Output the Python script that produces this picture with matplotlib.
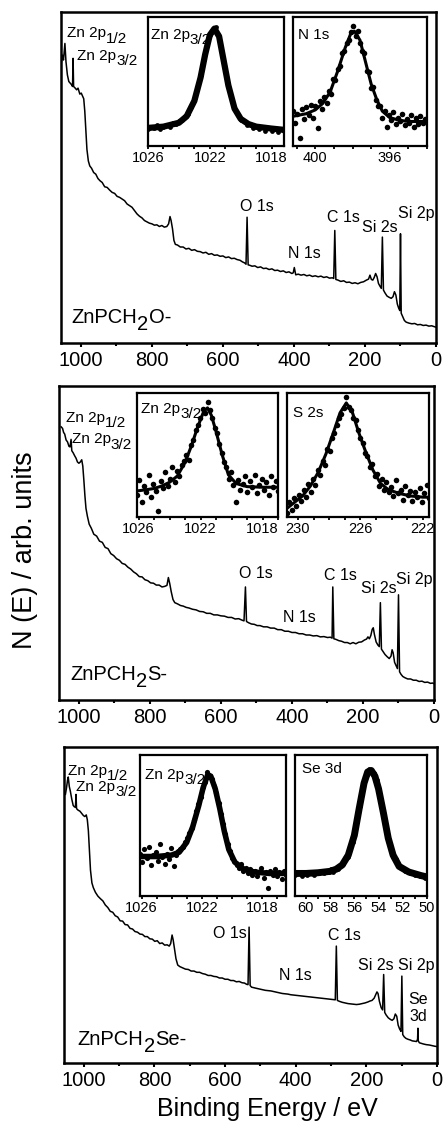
import matplotlib
matplotlib.use('Agg')
import numpy as np
import matplotlib.pyplot as plt
from matplotlib.ticker import FixedLocator
from matplotlib.transforms import IdentityTransform

plt.rcParams['font.family'] = ['Liberation Sans', 'DejaVu Sans']

# ---- survey spectra (binding energy eV, normalised intensity) ----
survey_o = [(1056, .84), (1052, .87), (1049, .855), (1045, .905), (1042, .85), (1038, .81), (1034, .79),
            (1030, .785), (1026, .78), (1023.5, .775), (1022, .86), (1020.5, .775), (1016, .77), (1012, .765),
            (1008, .77), (1003, .752), (999, .755), (995, .745), (992, .738), (989, .70), (986, .64), (983, .585),
            (979, .55), (975, .535), (970, .528), (964, .515), (958, .51), (952, .497), (946, .49), (940, .485),
            (933, .472), (926, .47), (919, .462), (912, .455), (905, .452), (898, .443), (891, .44), (884, .435),
            (877, .43), (870, .42), (863, .415), (856, .41), (849, .40), (842, .39), (835, .383), (828, .378),
            (821, .37), (814, .366), (807, .362), (800, .36), (793, .356), (786, .357), (779, .352), (772, .355),
            (765, .35), (758, .352), (753, .36), (749, .382), (746, .37), (742, .345), (738, .31), (734, .298),
            (728, .296), (720, .29), (712, .29), (704, .284), (696, .286), (688, .28), (680, .282), (672, .277),
            (664, .276), (656, .272), (648, .274), (640, .268), (632, .27), (624, .265), (616, .266), (608, .262),
            (600, .263), (592, .258), (584, .26), (576, .255), (568, .256), (560, .252), (552, .25), (545, .245),
            (539, .242), (535, .238), (532, .38), (529, .236), (525, .235), (518, .232), (510, .233), (502, .228),
            (494, .23), (486, .225), (478, .226), (470, .222), (462, .224), (454, .219), (446, .22), (438, .216),
            (430, .218), (422, .213), (414, .215), (406, .21), (402, .212), (399, .228), (395, .206), (388, .208),
            (380, .205), (372, .207), (364, .203), (356, .205), (348, .201), (340, .203), (332, .2), (324, .202),
            (316, .198), (308, .2), (300, .196), (292, .197), (288, .195), (285, .34), (282, .192), (276, .19),
            (268, .186), (260, .188), (252, .183), (244, .184), (236, .18), (228, .182), (220, .179), (212, .183),
            (204, .185), (196, .19), (190, .193), (186, .205), (182, .192), (178, .19), (174, .198), (170, .21),
            (166, .20), (162, .18), (158, .172), (154, .165), (151, .32), (148, .16), (144, .152), (138, .142),
            (132, .138), (126, .135), (121, .14), (117, .155), (113, .145), (109, .118), (105, .105), (102, .098),
            (100, .33), (98, .09), (94, .08), (89, .068), (84, .063), (76, .06), (68, .058), (60, .059), (52, .055),
            (44, .056), (36, .053), (28, .054), (20, .051), (12, .052), (4, .049), (0, .048)]

survey_s = [(1050, .87), (1046, .865), (1043, .852), (1040, .847), (1036, .828), (1032, .822), (1028, .808),
            (1025, .806), (1022, .83), (1020, .794), (1016, .787), (1012, .778), (1008, .77), (1004, .758),
            (1000, .754), (996, .758), (992, .765), (989, .745), (986, .70), (983, .65), (980, .61), (976, .585),
            (971, .56), (965, .547), (958, .528), (950, .522), (942, .506), (934, .502), (926, .486), (918, .482),
            (910, .466), (902, .46), (894, .45), (886, .445), (878, .435), (870, .432), (862, .423), (854, .417),
            (846, .408), (838, .402), (830, .393), (822, .392), (814, .383), (806, .38), (798, .373), (790, .372),
            (782, .366), (774, .366), (766, .36), (758, .362), (752, .365), (748, .39), (744, .37), (740, .345),
            (735, .32), (730, .31), (722, .306), (714, .301), (706, .299), (698, .295), (690, .293), (680, .289),
            (670, .287), (660, .282), (650, .281), (640, .276), (630, .276), (620, .271), (610, .271), (600, .268),
            (590, .267), (580, .263), (570, .263), (560, .258), (550, .259), (540, .254), (535, .252), (531, .36),
            (528, .25), (522, .246), (514, .242), (506, .241), (498, .237), (490, .237), (480, .233), (470, .233),
            (460, .229), (450, .229), (440, .224), (430, .224), (420, .219), (410, .219), (400, .215), (390, .215),
            (380, .211), (370, .211), (360, .207), (350, .207), (340, .204), (330, .205), (320, .201), (310, .202),
            (300, .199), (292, .2), (287, .197), (285, .36), (282, .195), (276, .193), (268, .189), (260, .187),
            (252, .183), (244, .183), (236, .179), (228, .183), (220, .179), (212, .184), (204, .185), (196, .191),
            (190, .194), (186, .201), (182, .195), (178, .205), (174, .225), (171, .23), (168, .21), (163, .185),
            (158, .175), (154, .17), (151, .31), (148, .162), (144, .155), (138, .145), (132, .138), (126, .132),
            (121, .14), (118, .16), (115, .15), (111, .12), (107, .11), (103, .1), (100, .335), (97, .09),
            (93, .082), (88, .075), (82, .071), (74, .067), (66, .067), (58, .063), (50, .063), (42, .059),
            (34, .06), (26, .056), (18, .057), (10, .053), (4, .054), (0, .052)]

survey_se = [(1052, .85), (1049, .87), (1046, .895), (1044, .905), (1041, .875), (1038, .86), (1034, .835),
             (1030, .815), (1026, .81), (1023.5, .81), (1022, .85), (1020.5, .805), (1016, .8), (1011, .797),
             (1006, .79), (1001, .783), (997, .78), (993, .785), (990, .77), (987, .735), (984, .67), (981, .61),
             (977, .57), (973, .555), (967, .54), (960, .528), (953, .52), (946, .513), (939, .50), (932, .492),
             (925, .48), (918, .477), (911, .466), (904, .462), (897, .45), (890, .449), (883, .438), (876, .437),
             (869, .426), (862, .424), (855, .416), (848, .414), (841, .408), (834, .407), (827, .4), (820, .4),
             (813, .393), (806, .392), (799, .385), (792, .387), (785, .378), (778, .38), (771, .373), (764, .374),
             (758, .37), (754, .378), (750, .405), (747, .39), (743, .36), (739, .33), (734, .31), (728, .305),
             (720, .301), (712, .297), (704, .296), (696, .291), (688, .291), (680, .287), (672, .287), (664, .283),
             (656, .281), (648, .277), (640, .277), (632, .274), (624, .273), (616, .269), (608, .269), (600, .265),
             (592, .265), (584, .261), (576, .261), (568, .257), (560, .258), (552, .254), (545, .253), (539, .249),
             (535, .248), (532, .43), (529, .245), (525, .24), (518, .238), (510, .236), (502, .234), (494, .232),
             (486, .23), (478, .229), (470, .228), (462, .226), (454, .224), (446, .222), (438, .22), (430, .219),
             (422, .218), (414, .216), (406, .215), (398, .214), (390, .213), (382, .212), (374, .211), (366, .21),
             (358, .209), (350, .208), (342, .207), (334, .206), (326, .205), (318, .204), (310, .203), (302, .202),
             (294, .201), (288, .2), (285, .37), (282, .198), (276, .195), (268, .192), (260, .19), (252, .188),
             (244, .187), (236, .186), (228, .185), (220, .186), (212, .188), (204, .19), (196, .193), (190, .196),
             (184, .198), (178, .205), (174, .215), (170, .225), (167, .22), (163, .195), (158, .175), (154, .168),
             (151, .28), (148, .16), (144, .152), (138, .143), (132, .138), (127, .135), (122, .14), (118, .155),
             (114, .148), (110, .12), (106, .108), (102, .1), (99.5, .275), (97, .09), (93, .083), (88, .078),
             (82, .075), (76, .073), (70, .07), (64, .069), (58, .068), (55, .075), (54, .11), (53, .07),
             (50, .064), (44, .062), (38, .06), (30, .058), (22, .057), (14, .055), (6, .053), (0, .052)]

# ---- high resolution insets ----
zn_o_fit_e = [1026, 1025, 1024, 1023.5, 1023, 1022.6, 1022.3, 1022.0, 1021.7, 1021.4, 1021.1, 1020.8, 1020.4,
              1020, 1019.5, 1019, 1018, 1017.2]
zn_o_fit = [.14, .15, .18, .23, .35, .53, .71, .86, .91, .85, .66, .47, .29, .21, .17, .15, .135, .125]
zn_o_pts = [.13, .15, .14, .16, .13, .15, .16, .15, .18, .17, .19, .20, .23, .25, .30, .36, .45, .55, .68, .79,
            .86, .91, .92, .84, .73, .60, .48, .38, .29, .24, .20, .19, .16, .17, .14, .15, .13, .15, .12, .14,
            .12, .13, .11, .13, .12]

n_fit_e = [401.2, 400.5, 400.0, 399.6, 399.2, 398.8, 398.4, 398.1, 397.9, 397.6, 397.3, 397.0, 396.7, 396.4,
           396.0, 395.5, 395, 394]
n_fit = [.23, .25, .28, .33, .42, .58, .76, .87, .89, .82, .65, .48, .36, .27, .22, .20, .19, .19]
n_pts = [.27, .18, .25, .06, .29, .21, .30, .24, .32, .22, .31, .14, .35, .29, .38, .33, .43, .40, .52, .51,
         .60, .62, .72, .74, .80, .82, .88, .93, .85, .89, .80, .74, .72, .58, .57, .45, .46, .36, .31, .31,
         .22, .27, .15, .24, .20, .26, .17, .22, .19, .25, .16, .21, .18, .24, .15, .22, .17, .23, .18, .21, .20]

zn_s_fit_e = [1026.1, 1025.5, 1025, 1024.5, 1024, 1023.5, 1023, 1022.6, 1022.2, 1021.8, 1021.55, 1021.3, 1021.0,
              1020.6, 1020.2, 1019.7, 1019, 1018, 1017]
zn_s_fit = [.21, .22, .23, .25, .28, .33, .44, .57, .72, .85, .88, .82, .69, .50, .34, .27, .245, .24, .24]
zn_s_pts = [.18, .30, .12, .25, .20, .34, .16, .27, .21, .05, .29, .23, .36, .25, .31, .40, .28, .37, .33, .42,
            .45, .50, .46, .58, .62, .70, .74, .80, .87, .84, .93, .86, .80, .72, .68, .59, .52, .44, .40, .31,
            .36, .26, .12, .30, .22, .27, .33, .20, .29, .24, .34, .19, .26, .31, .22, .28, .18, .33, .24, .29, .21]

s_fit_e = [230.7, 230.2, 229.7, 229.2, 228.7, 228.2, 227.7, 227.3, 226.9, 226.5, 226.1, 225.7, 225.2, 224.7,
           224.2, 223.5, 222.8, 222.0, 221.6]
s_fit = [.07, .12, .17, .25, .36, .51, .69, .84, .92, .84, .68, .54, .38, .27, .22, .19, .17, .16, .16]
s_pts = [.03, .12, .06, .15, .09, .18, .13, .22, .16, .27, .20, .31, .26, .38, .34, .45, .42, .55, .53, .64,
         .68, .74, .80, .83, .88, .97, .89, .86, .80, .78, .70, .64, .60, .52, .49, .40, .43, .33, .35, .25,
         .31, .22, .28, .20, .24, .17, .30, .19, .22, .14, .25, .18, .21, .13, .20, .16, .23, .12, .19, .26, .15]

zn_se_fit_e = [1026.1, 1025, 1024, 1023.5, 1023, 1022.6, 1022.2, 1021.9, 1021.6, 1021.4, 1021.1, 1020.8, 1020.5,
               1020.2, 1019.8, 1019.2, 1018.5, 1017.5, 1016.4]
zn_se_fit = [.28, .28, .29, .31, .38, .49, .64, .77, .86, .85, .76, .62, .46, .33, .24, .19, .17, .16, .16]
zn_se_pts = [.30, .24, .33, .27, .35, .22, .29, .31, .25, .37, .28, .23, .30, .26, .34, .21, .29, .32, .33, .35,
             .38, .41, .45, .48, .54, .60, .65, .70, .77, .81, .88, .85, .83, .78, .73, .66, .58, .51, .44, .37,
             .32, .27, .25, .22, .20, .23, .18, .20, .16, .19, .15, .18, .14, .17, .20, .13, .17, .06, .18, .15,
             .19, .14, .17, .12, .18, .15]

se_fit_e = [60.9, 60, 59, 58, 57.5, 57, 56.5, 56.0, 55.6, 55.2, 54.9, 54.6, 54.3, 54.0, 53.6, 53.2, 52.8, 52.3,
            51.5, 50.5, 50.0]
se_fit = [.16, .16, .165, .175, .19, .22, .29, .43, .62, .80, .88, .89, .85, .76, .59, .41, .29, .21, .17, .145, .135]
se_pts = [.15, .17, .16, .14, .17, .15, .17, .16, .15, .17, .16, .18, .16, .18, .17, .19, .17, .20, .19, .22,
          .23, .27, .28, .34, .38, .46, .54, .64, .75, .82, .86, .90, .88, .87, .82, .74, .67, .57, .50, .40,
          .35, .28, .26, .23, .20, .19, .18, .175, .16, .165, .15, .155, .14, .145, .13, .14]

major_e = [1000, 800, 600, 400, 200, 0]
major_lbl = ['1000', '800', '600', '400', '200', '0']
minor_e = [1100, 900, 700, 500, 300, 100]

W, H = 443, 1123
fig = plt.figure(figsize=(W / 100, H / 100), dpi=100)


def px_axes(l, t, r, b):
    return fig.add_axes([l / W, 1 - b / H, (r - l) / W, (b - t) / H])


def main_panel(box, data):
    ax = px_axes(*box)
    e, n = zip(*data)
    ax.plot(e, n, color='black', lw=1.1)
    ax.set_xlim(1056, 0)
    ax.set_ylim(0, 1)
    ax.set_yticks([])
    ax.xaxis.set_major_locator(FixedLocator(major_e))
    ax.xaxis.set_minor_locator(FixedLocator(minor_e))
    ax.set_xticklabels(major_lbl)
    ax.tick_params(axis='x', which='major', direction='out', length=3, width=1.5, labelsize=14.5, pad=3)
    ax.tick_params(axis='x', which='minor', direction='out', length=2.2, width=1.5)
    for sp in ax.spines.values():
        sp.set_linewidth(1.8)
    return ax


def inset(box, xlim, fit_e, fit, pts, ticks, minors, fit_lw, ms):
    ax = px_axes(*box)
    ax.plot(fit_e, fit, color='black', lw=fit_lw, solid_capstyle='round')
    ax.scatter(np.linspace(xlim[0], xlim[1], len(pts)), pts, s=ms, color='black', linewidths=0, zorder=3)
    ax.set_xlim(*xlim)
    ax.set_ylim(0, 1)
    ax.set_yticks([])
    ax.xaxis.set_major_locator(FixedLocator(ticks))
    ax.xaxis.set_minor_locator(FixedLocator(minors))
    ax.set_xticklabels([str(t) for t in ticks])
    ax.tick_params(axis='x', which='major', direction='out', length=2.2, width=1.3, labelsize=10.5, pad=1.5)
    ax.tick_params(axis='x', which='minor', direction='out', length=1.8, width=1.3)
    for sp in ax.spines.values():
        sp.set_linewidth(1.6)
    return ax


def label(ax, x, y, parts, size, axes=False):
    # parts: (text, lowered) pieces drawn one after another on one baseline
    tr = ax.transAxes if axes else ax.transData
    px, py = tr.transform((x, y))
    rend = fig.canvas.get_renderer()
    for s, low in parts:
        t = fig.text(px, py - (0.33 * size * 100 / 72 if low else 0), s, fontsize=size,
                     transform=IdentityTransform(), ha='left', va='baseline')
        px = t.get_window_extent(rend).x1


ax1 = main_panel((61, 12, 436, 343), survey_o)
ax2 = main_panel((59, 386, 434, 700), survey_s)
ax3 = main_panel((64, 747, 437, 1063), survey_se)

zn_ticks, zn_minor = [1026, 1022, 1018], [1025, 1024, 1023, 1021, 1020, 1019, 1017]
i1a = inset((148, 17, 284, 146), (1026.0, 1017.2), zn_o_fit_e, zn_o_fit, zn_o_pts, zn_ticks, zn_minor, 4.5, 12)
i1b = inset((293, 17, 427, 146), (401.2, 394.0), n_fit_e, n_fit, n_pts, [400, 396],
            [401, 399, 398, 397, 395, 394], 2.2, 16)
i2a = inset((137, 393, 278, 517), (1026.1, 1017.0), zn_s_fit_e, zn_s_fit, zn_s_pts, zn_ticks, zn_minor, 2.2, 16)
i2b = inset((287, 393, 429, 517), (230.7, 221.6), s_fit_e, s_fit, s_pts, [230, 226, 222],
            [229, 228, 227, 225, 224, 223], 2.2, 16)
i3a = inset((140, 755, 286, 896), (1026.1, 1016.4), zn_se_fit_e, zn_se_fit, zn_se_pts, zn_ticks, zn_minor, 4.0, 14)
i3b = inset((295, 755, 427, 896), (60.9, 50.0), se_fit_e, se_fit, se_pts, [60, 58, 56, 54, 52, 50],
            [59, 57, 55, 53, 51], 5.0, 12)

fig.canvas.draw()

# main panel annotations
for ax, zn12, zn32, peaks, sample in [
    (ax1, (1040, .923), (1010, .855),
     [('O 1s', 552, .40), ('N 1s', 417, .256), ('C 1s', 307, .367), ('Si 2s', 207, .336), ('Si 2p', 108, .377)],
     ('O-', 1026, .06)),
    (ax2, (1037, .886), (1020, .817),
     [('O 1s', 550, .387), ('N 1s', 426, .25), ('C 1s', 309, .382), ('Si 2s', 206, .34), ('Si 2p', 107, .37)],
     ('S-', 1025, .064)),
    (ax3, (1044, .91), (1022, .86),
     [('O 1s', 635, .395), ('N 1s', 447, .263), ('C 1s', 310, .39), ('Si 2s', 224, .295), ('Si 2p', 110, .295)],
     ('Se-', 1017, .057)),
]:
    label(ax, zn12[0], zn12[1], [('Zn 2p', False), ('1/2', True)], 11)
    label(ax, zn32[0], zn32[1], [('Zn 2p', False), ('3/2', True)], 11)
    for txt, e, y in peaks:
        label(ax, e, y, [(txt, False)], 11.5)
    label(ax, sample[1], sample[2], [('ZnPCH', False), ('2', True), (sample[0], False)], 14.5)

ax3.text(53, 0.187, 'Se', fontsize=11.5, ha='center', va='baseline')
ax3.text(53, 0.134, '3d', fontsize=11.5, ha='center', va='baseline')

# inset titles
for ax, parts, x, y in [
    (i1a, [('Zn 2p', False), ('3/2', True)], .02, .83),
    (i1b, [('N 1s', False)], .04, .83),
    (i2a, [('Zn 2p', False), ('3/2', True)], .03, .84),
    (i2b, [('S 2s', False)], .04, .81),
    (i3a, [('Zn 2p', False), ('3/2', True)], .034, .83),
    (i3b, [('Se 3d', False)], .05, .87),
]:
    label(ax, x, y, parts, 11, axes=True)

fig.text(25 / W, 1 - 550 / H, 'N (E) / arb. units', rotation=90, fontsize=19.5, ha='center', va='center')
fig.text(267 / W, 7 / H, 'Binding Energy / eV', fontsize=18, ha='center', va='baseline')

fig.savefig('out.png', dpi=100)
